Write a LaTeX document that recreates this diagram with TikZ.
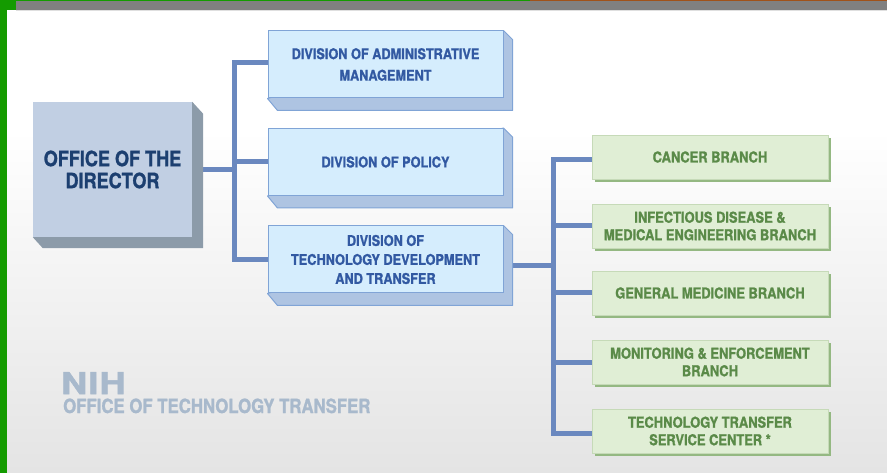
\documentclass[tikz,border=0pt]{standalone}
\usepackage{fontspec}
\setmainfont{TeX Gyre Heros}[FakeStretch=0.86, BoldFeatures={FakeBold=1.2}]
\newfontfamily\nihfont{TeX Gyre Heros}[FakeStretch=1.2, LetterSpace=4, BoldFeatures={FakeBold=2}]
\usetikzlibrary{calc}
\definecolor{sidegreen}{HTML}{149B00}
\definecolor{topbrown}{HTML}{A0521A}
\definecolor{bandgray}{HTML}{808080}
\definecolor{bgbot}{HTML}{E4E4E4}
\definecolor{dirfront}{HTML}{C1CFE3}
\definecolor{dirshadow}{HTML}{8C9BA9}
\definecolor{dirtext}{HTML}{1C3F70}
\definecolor{divfront}{HTML}{D5EDFD}
\definecolor{divborder}{HTML}{80A4D6}
\definecolor{divext}{HTML}{AEC4E2}
\definecolor{divtext}{HTML}{3259A2}
\definecolor{connc}{HTML}{6A88BF}
\definecolor{brfront}{HTML}{E0EED5}
\definecolor{brborder}{HTML}{C6DAB8}
\definecolor{brshadow}{HTML}{94B882}
\definecolor{brtext}{HTML}{5A8A48}
\definecolor{nihtext}{HTML}{A8B9CC}
\pgfdeclarelayer{bg}
\pgfdeclarelayer{conn}
\pgfdeclarelayer{ext}
\pgfsetlayers{bg,conn,ext,main}
\begin{document}
\begin{tikzpicture}[x=1pt,y=-1pt,
  dirbox/.style={fill=dirfront, draw=none, minimum width=159pt, minimum height=135pt, inner sep=0pt, align=center, text=dirtext, font=\bfseries\fontsize{21}{22}\selectfont},
  divbox/.style={fill=divfront, draw=divborder, line width=1pt, minimum width=235pt, minimum height=67pt, inner sep=0pt, align=center, text=divtext, font=\bfseries\fontsize{14.8}{21.5}\selectfont},
  brbox/.style={fill=brfront, draw=brborder, line width=0.8pt, minimum width=236pt, minimum height=44pt, inner sep=0pt, align=center, text=brtext, font=\bfseries\fontsize{15}{17.5}\selectfont},
  connline/.style={draw=connc, line width=5pt, line join=miter},
  divextr/.style={fill=divext, draw=divborder, line width=1pt, line join=round},
  dirextr/.style={fill=dirshadow, draw=none},
  brshad/.style={fill=brshadow, draw=none},
  nihbig/.style={text=nihtext, inner sep=0pt, anchor=base west, font=\nihfont\bfseries\fontsize{30}{31}\selectfont},
  nihsmall/.style={text=nihtext, inner sep=0pt, anchor=base west, font=\bfseries\fontsize{19.5}{21}\selectfont}
]
\useasboundingbox (0,0) rectangle (887,473);
\begin{pgfonlayer}{bg}
  \fill[white] (0,0) rectangle (887,473);
  \fill[white] (7,10) rectangle (887,130);
  \shade[top color=white, bottom color=bgbot] (7,130) rectangle (887,473);
  \fill[sidegreen] (0,0) rectangle (7,473);
  \fill[sidegreen] (0,0) rectangle (16,10);
  \fill[bandgray] (16,1) rectangle (887,10);
  \fill[gray!25] (16,10) rectangle (887,11.5);
  \fill[sidegreen] (0,0) rectangle (530,1.3);
  \fill[topbrown] (530,0) rectangle (887,1.3);
\end{pgfonlayer}

% nodes
\node[dirbox] (dir) at (112.5,169.5) {OFFICE OF THE\\DIRECTOR};
\node[divbox] (d1) at (385.5,64.5) {DIVISION OF ADMINISTRATIVE\\MANAGEMENT};
\node[divbox] (d2) at (385.5,162) {DIVISION OF POLICY};
\node[divbox, font=\bfseries\fontsize{14.8}{19}\selectfont] (d3) at (385.5,259.5) {DIVISION OF\\TECHNOLOGY DEVELOPMENT\\AND TRANSFER};
\node[brbox] (b1) at (710,157) {CANCER BRANCH};
\node[brbox] (b2) at (710,226) {INFECTIOUS DISEASE \&\\MEDICAL ENGINEERING BRANCH};
\node[brbox] (b3) at (710,293) {GENERAL MEDICINE BRANCH};
\node[brbox] (b4) at (710,362) {MONITORING \& ENFORCEMENT\\BRANCH};
\node[brbox] (b5) at (710,431) {TECHNOLOGY TRANSFER\\SERVICE CENTER *};
\node[nihbig] (nih) at (61,394) {NIH};
\node[nihsmall] (ott) at (63,413) {OFFICE OF TECHNOLOGY TRANSFER};

\coordinate (trunkL) at (234,0);
\coordinate (trunkR) at (553,0);

% extrusions
\begin{pgfonlayer}{ext}
  \fill[dirextr] (dir.north east) -- ($(dir.north east)+(11,12)$) -- ($(dir.south east)+(11,11)$) -- ($(dir.south west)+(10,11)$) -- (dir.south west) -- cycle;
  \foreach \n in {d1,d2,d3} {
    \filldraw[divextr] (\n.north east) -- ($(\n.north east)+(9,9)$) -- ($(\n.south east)+(9,12)$) -- ($(\n.south west)+(10,12)$) -- (\n.south west) -- cycle;
  }
  \foreach \n in {b1,b2,b3,b4,b5} {
    \fill[brshad] ($(\n.north west)+(3,3)$) rectangle ($(\n.south east)+(3,3)$);
  }
\end{pgfonlayer}

% connectors
\begin{pgfonlayer}{conn}
  \draw[connline] (dir.east) -- (dir.east -| trunkL);
  \draw[connline] ([yshift=1.5pt]d1.west) -- ([yshift=1.5pt]d1.west -| trunkL) -- (d3.west -| trunkL) -- (d3.west);
  \draw[connline] (d2.west) -- (d2.west -| trunkL);
  \draw[connline] ([yshift=-6.5pt]d3.east) -- ([yshift=-6.5pt]d3.east -| trunkR);
  \draw[connline] ([yshift=-3pt]b1.west) -- ([yshift=-3pt]b1.west -| trunkR) -- ([yshift=-2pt]b5.west -| trunkR) -- ([yshift=-2pt]b5.west);
  \draw[connline] (b2.west) -- (b2.west -| trunkR);
  \draw[connline] (b3.west) -- (b3.west -| trunkR);
  \draw[connline] (b4.west) -- (b4.west -| trunkR);
\end{pgfonlayer}
\end{tikzpicture}
\end{document}
